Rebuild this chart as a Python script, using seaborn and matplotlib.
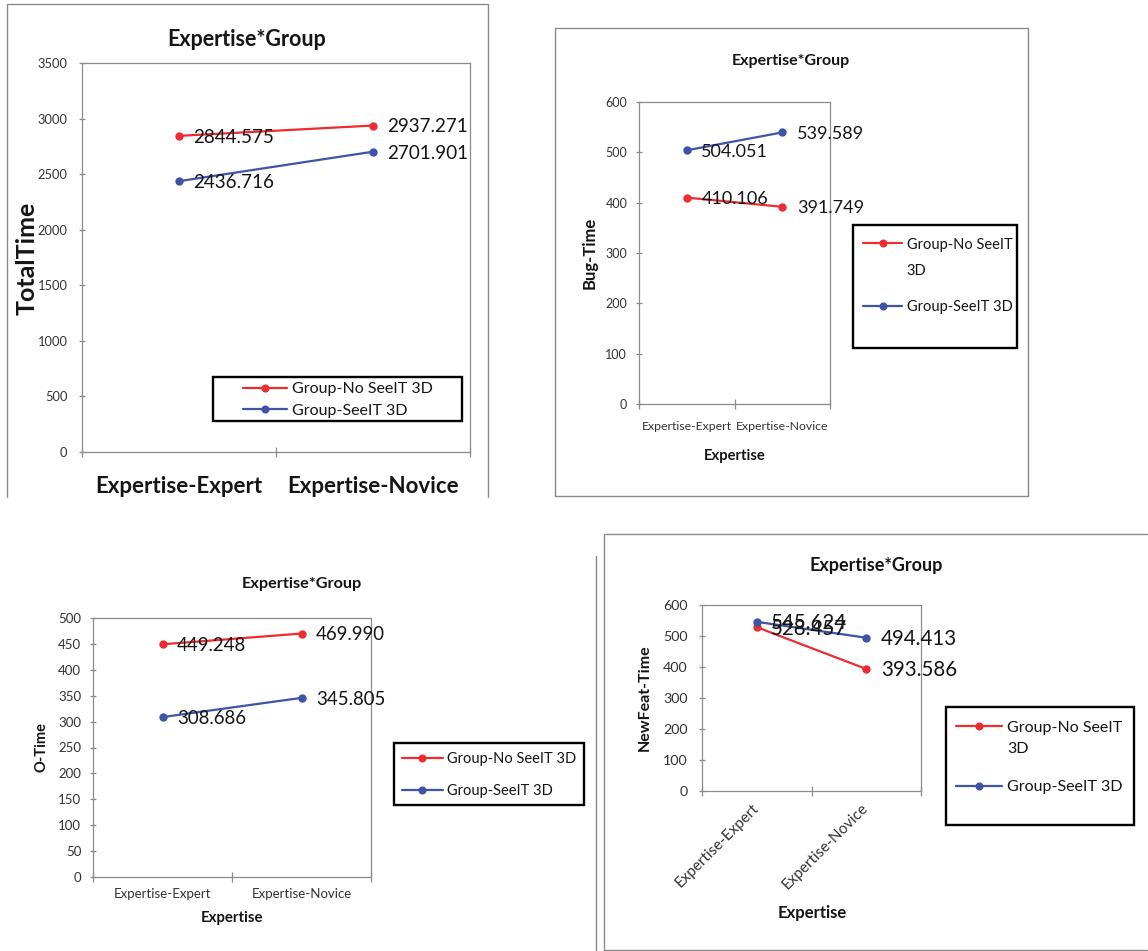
import numpy as np
import pandas as pd
import matplotlib
matplotlib.use("Agg")
import matplotlib.pyplot as plt
import seaborn as sns
from matplotlib.lines import Line2D
from matplotlib.patches import Rectangle
from matplotlib.legend_handler import HandlerLine2D

# ---- data -------------------------------------------------------------
expertise = ["Expertise-Expert", "Expertise-Novice"]
groups = ["Group-No SeeIT 3D", "Group-SeeIT 3D"]

total_no_seeit = [2844.575, 2937.271]
total_seeit = [2436.716, 2701.901]
bug_no_seeit = [410.106, 391.749]
bug_seeit = [504.051, 539.589]
o_no_seeit = [449.248, 469.990]
o_seeit = [308.686, 345.805]
newfeat_no_seeit = [528.457, 393.586]
newfeat_seeit = [545.624, 494.413]

chart_title = "Expertise*Group"
x_title = "Expertise"

# ---- style ------------------------------------------------------------
RED = "#EE2B30"
BLUE = "#3E54A6"
AXIS_GREY = "#8C8C8C"
BORDER_GREY = "#8A8A8A"
TICK_TXT = "#333333"
TXT = "#151515"

sns.set_theme(style="white")
plt.rcParams["font.family"] = ["Lato", "DejaVu Sans"]

W, H = 1148, 951
fig = plt.figure(figsize=(W / 100, H / 100), dpi=100)
fig.patch.set_facecolor("white")


def fx(px):
    return px / W


def fy(py):
    return 1 - py / H


def add_axes_px(l, t, r, b):
    return fig.add_axes([fx(l), fy(b), (r - l) / W, (b - t) / H])


def polyline(points, color=BORDER_GREY, lw=1.0, zorder=11):
    xs, ys = zip(*points)
    fig.add_artist(Line2D([fx(x) for x in xs], [fy(y) for y in ys], color=color,
                          lw=lw, transform=fig.transFigure, zorder=zorder))


class FirstLineHandler(HandlerLine2D):
    """Line handle aligned with the first line of a wrapped legend label."""

    def __init__(self, shift, **kw):
        super().__init__(**kw)
        self.shift = shift

    def create_artists(self, legend, orig_handle, xdescent, ydescent, width,
                       height, fontsize, trans):
        artists = super().create_artists(legend, orig_handle, xdescent, ydescent,
                                         width, height, fontsize, trans)
        for a in artists:
            a.set_ydata(np.asarray(a.get_ydata(), dtype=float) + self.shift)
        return artists


def draw_panel(box, no_vals, see_vals, ymax, ystep, ylabel, *,
               title_xy, title_fs, ylabel_xy, ylabel_fs,
               ytick_fs, ytick_pad, xtick_fs, xtick_pad,
               value_fs, legend_box, legend_anchor, legend_fs,
               legend_spacing, legend_labels, handle_len,
               xlabel_xy=None, xlabel_fs=None, xtick_bold=False,
               xtick_rot=0, label_linespacing=1.2, first_shift=0.0):
    l, t, r, b = box
    ax = add_axes_px(l, t, r, b)

    df = pd.DataFrame({
        "Expertise": expertise * 2,
        "Group": [groups[0]] * len(expertise) + [groups[1]] * len(expertise),
        "Value": list(no_vals) + list(see_vals),
    })
    sns.pointplot(data=df, x="Expertise", y="Value", hue="Group",
                  order=expertise, hue_order=groups, palette=[RED, BLUE],
                  markers="o", markersize=4.8, linewidth=1.6, errorbar=None,
                  legend=False, ax=ax)

    # value labels next to each point
    for vals in (no_vals, see_vals):
        for i, v in enumerate(vals):
            ax.annotate(f"{v:.3f}", xy=(i, v), xytext=(10.5, -1.0),
                        textcoords="offset points", ha="left", va="center",
                        fontsize=value_fs, color=TXT, zorder=5,
                        annotation_clip=False)

    ax.set_xlim(-0.5, len(expertise) - 0.5)
    ax.set_ylim(0, ymax)
    ax.set_yticks(np.arange(0, ymax + 1, ystep))
    ax.set_xticks(range(len(expertise)))
    ax.set_xticklabels(expertise)
    ax.set_xticks(np.arange(-0.5, len(expertise)), minor=True)
    ax.set_facecolor("white")

    for s in ax.spines.values():
        s.set_visible(True)
        s.set_color(AXIS_GREY)
        s.set_linewidth(0.9)

    ax.tick_params(axis="y", which="major", direction="inout", length=5,
                   width=0.9, color=AXIS_GREY, labelsize=ytick_fs,
                   labelcolor=TICK_TXT, pad=ytick_pad, left=True)
    ax.tick_params(axis="x", which="major", length=0, labelsize=xtick_fs,
                   labelcolor=TICK_TXT if not xtick_bold else TXT,
                   pad=xtick_pad, bottom=True)
    ax.tick_params(axis="x", which="minor", direction="inout", length=7,
                   width=0.9, color=AXIS_GREY, bottom=True)
    if xtick_bold:
        for lab in ax.get_xticklabels():
            lab.set_fontweight("bold")
    if xtick_rot:
        for lab in ax.get_xticklabels():
            lab.set_rotation(xtick_rot)
            lab.set_ha("right")
            lab.set_va("center")
            lab.set_rotation_mode("anchor")

    # axis titles
    ax.set_ylabel(ylabel, fontsize=ylabel_fs, fontweight="bold", color=TXT)
    ax.yaxis.set_label_coords((ylabel_xy[0] - l) / (r - l),
                              (b - ylabel_xy[1]) / (b - t))
    ax.yaxis.label.set_va("center")
    if xlabel_xy is not None:
        ax.set_xlabel(x_title, fontsize=xlabel_fs, fontweight="bold", color=TXT)
        ax.xaxis.set_label_coords((xlabel_xy[0] - l) / (r - l),
                                  (b - xlabel_xy[1]) / (b - t))
        ax.xaxis.label.set_va("center")
    else:
        ax.set_xlabel("")

    fig.text(fx(title_xy[0]), fy(title_xy[1]), chart_title, ha="center",
             va="center", fontsize=title_fs, fontweight="bold", color=TXT)

    # legend
    handles = [Line2D([], [], color=c, marker="o", markersize=4.8, lw=1.6)
               for c in (RED, BLUE)]
    handler_map = {}
    if first_shift:
        handler_map[handles[0]] = FirstLineHandler(first_shift)
    leg = ax.legend(handles, legend_labels, loc="upper left",
                    bbox_to_anchor=(fx(legend_anchor[0]), fy(legend_anchor[1])),
                    bbox_transform=fig.transFigure, frameon=False,
                    fontsize=legend_fs, handlelength=handle_len,
                    handletextpad=0.3, labelspacing=legend_spacing,
                    borderpad=0, borderaxespad=0, handler_map=handler_map)
    for txt in leg.get_texts():
        txt.set_color(TXT)
        txt.set_linespacing(label_linespacing)
    bl, bt, br, bb = legend_box
    fig.add_artist(Rectangle((fx(bl), fy(bb)), (br - bl) / W, (bb - bt) / H,
                             transform=fig.transFigure, fill=False,
                             ec="black", lw=1.7, zorder=11))
    return ax


# ---- TotalTime ----------------------------------------------------------
draw_panel((82, 63, 470, 452), total_no_seeit, total_seeit, 3500, 500, "TotalTime",
           title_xy=(247, 39), title_fs=15.5, ylabel_xy=(27, 258), ylabel_fs=18,
           ytick_fs=9.3, ytick_pad=8.0, xtick_fs=16, xtick_pad=17, xtick_bold=True,
           value_fs=13.6, legend_box=(213, 377, 462, 421), legend_anchor=(243, 382),
           legend_fs=11.5, legend_spacing=0.45, handle_len=2.75,
           legend_labels=groups)

# ---- Bug-Time -----------------------------------------------------------
draw_panel((639, 102, 830, 404), bug_no_seeit, bug_seeit, 600, 100, "Bug-Time",
           title_xy=(791, 61), title_fs=11.5, ylabel_xy=(590, 253), ylabel_fs=12,
           ytick_fs=9, ytick_pad=6.0, xtick_fs=8.8, xtick_pad=12.5,
           xlabel_xy=(735, 456), xlabel_fs=10.6,
           value_fs=13, legend_box=(853, 225, 1017, 348), legend_anchor=(863, 238),
           legend_fs=10.5, legend_spacing=1.52, handle_len=2.7,
           label_linespacing=2.05, first_shift=11.2,
           legend_labels=["Group-No SeeIT\n3D", "Group-SeeIT 3D"])

# ---- O-Time -------------------------------------------------------------
draw_panel((93, 618, 371, 877), o_no_seeit, o_seeit, 500, 50, "O-Time",
           title_xy=(302, 584), title_fs=11.7, ylabel_xy=(42, 747), ylabel_fs=10.5,
           ytick_fs=9.5, ytick_pad=6.0, xtick_fs=9.5, xtick_pad=8,
           xlabel_xy=(232, 918), xlabel_fs=10.8,
           value_fs=13.4, legend_box=(394, 743, 584, 805), legend_anchor=(402, 752),
           legend_fs=10.5, legend_spacing=1.25, handle_len=2.8,
           legend_labels=groups)

# ---- NewFeat-Time -------------------------------------------------------
draw_panel((702, 605, 921, 791), newfeat_no_seeit, newfeat_seeit, 600, 100,
           "NewFeat-Time",
           title_xy=(876, 565), title_fs=13, ylabel_xy=(645, 698), ylabel_fs=11.5,
           ytick_fs=10.3, ytick_pad=8.0, xtick_fs=11, xtick_pad=11, xtick_rot=45,
           xlabel_xy=(812, 913), xlabel_fs=12,
           value_fs=14.8, legend_box=(946, 707, 1134, 825), legend_anchor=(956, 721),
           legend_fs=11.5, legend_spacing=1.49, handle_len=2.9,
           label_linespacing=1.68, first_shift=9.0,
           legend_labels=["Group-No SeeIT\n3D", "Group-SeeIT 3D"])

# ---- chart-area borders -------------------------------------------------
fig.add_artist(Rectangle((0, fy(545)), fx(550), (545 - 497) / H,
                         transform=fig.transFigure, facecolor="white",
                         ec="none", zorder=10))
polyline([(7, 497), (7, 4), (488, 4), (488, 497)])
polyline([(555, 28), (1028, 28), (1028, 496), (555, 496), (555, 28)])
polyline([(596, 556), (596, 951)])
polyline([(1147, 534), (604, 534), (604, 950), (1147, 950)])

fig.savefig("out.png", dpi=100, facecolor="white")
